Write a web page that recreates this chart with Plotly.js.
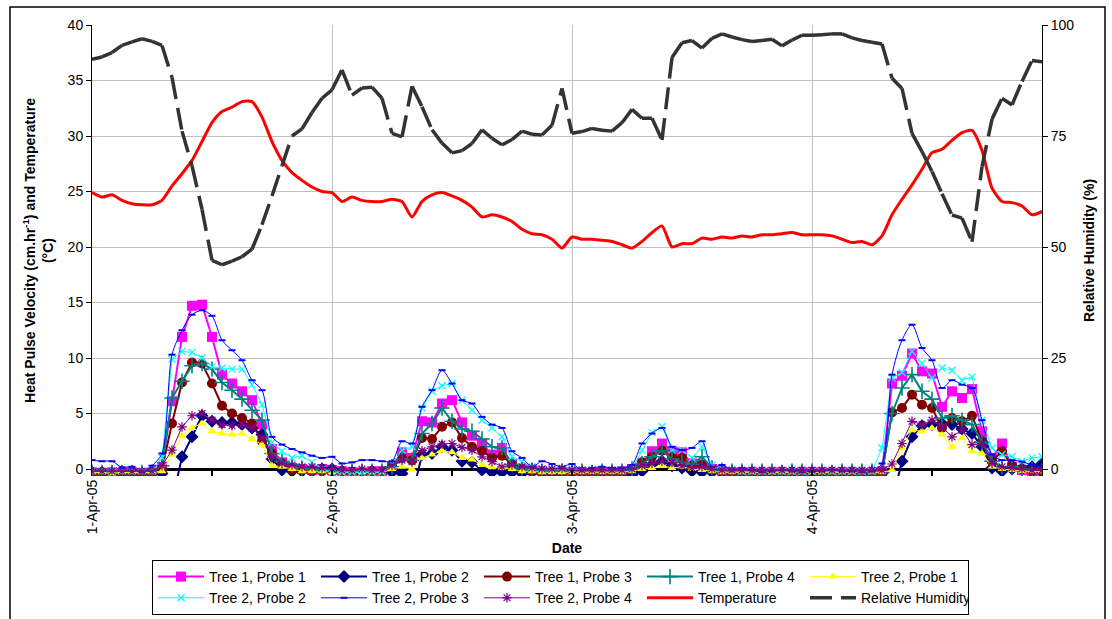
<!DOCTYPE html>
<html>
<head>
<meta charset="utf-8">
<script src="https://cdn.plot.ly/plotly-3.0.1.min.js"></script>
<style>
html,body{margin:0;padding:0;background:#ffffff;}
#chart{width:1112px;height:619px;}
</style>
</head>
<body>
<div id="chart"></div>
<script>
// ---- categories (hourly readings, 1-Apr-05 00:00 onward) ----
const startYear = 2005, startMonth = 3, startDay = 1; // JS month index (3 = April)
const nHours = 96;
const dayTicks = ['2005-04-01', '2005-04-02', '2005-04-03', '2005-04-04'];
const dayLabels = ['1-Apr-05', '2-Apr-05', '3-Apr-05', '4-Apr-05'];

// ---- Heat pulse velocity (cm/hr), one value per hour ----
const tree1Probe1 = [
 -0.3,-0.4,-0.3,-0.4,-0.3,-0.4, -0.3,0.2,6.1,11.9,14.7,14.8, 11.9,8.5,7.7,7.0,6.2,4.0, 1.8,0.6,0.1,0.0,-0.1,0.0,
 -0.1,-0.2,-0.3,-0.3,-0.2,-0.2, 0.2,1.5,1.0,4.3,4.2,5.9, 6.2,4.2,3.0,2.3,1.3,1.9, 0.5,0.0,-0.1,-0.2,-0.3,-0.3,
 -0.3,-0.3,-0.4,-0.3,-0.4,-0.2, 0.0,0.5,1.6,2.3,1.6,1.5, 0.5,0.3,0.0,-0.2,-0.3,-0.3, -0.3,-0.4,-0.3,-0.3,-0.4,-0.3,
 -0.3,-0.3,-0.4,-0.3,-0.3,-0.4, -0.3,-0.2,7.7,8.4,10.4,8.8, 8.6,5.6,7.0,6.4,7.2,3.4, 1.0,2.3,0.2,-0.1,-0.2,-0.2];
const tree1Probe2 = [
 -0.3,-0.3,-0.4,-0.3,-0.3,-0.4, -0.3,-0.4,-3.0,1.1,2.9,4.8, 4.3,4.2,4.2,4.0,3.7,3.1, 0.9,-0.1,-0.2,-0.2,-0.1,0.0,
 0.0,-0.2,-0.3,-0.3,-0.2,-0.3, -0.3,-0.4,-2.5,1.3,1.4,2.0, 1.7,0.7,0.6,-0.1,-0.3,-0.3, -0.3,-0.4,-0.3,-0.3,-0.4,-0.3,
 -0.3,-0.3,-0.4,-0.3,-0.3,-0.3, -0.5,-0.2,0.4,0.7,0.3,0.1, -0.2,-0.3,-0.3,-0.3,-0.4,-0.3, -0.3,-0.3,-0.4,-0.3,-0.3,-0.3,
 -0.3,-0.4,-0.3,-0.3,-0.3,-0.4, -0.3,-0.4,-3.0,0.7,2.9,3.9, 4.0,4.1,4.0,3.6,3.2,2.0, 0.1,-0.2,0.0,0.0,0.2,0.5];
const tree1Probe3 = [
 -0.4,-0.5,-0.5,-0.4,-0.5,-0.4, -0.4,0.0,4.1,7.8,9.6,9.5, 7.7,5.7,5.0,4.6,4.1,2.5, 1.4,0.5,-0.1,-0.1,-0.2,-0.2,
 -0.3,-0.3,-0.3,-0.4,-0.3,-0.3, 0.2,1.0,0.8,2.8,2.7,3.8, 4.2,2.8,2.0,1.65,1.0,1.2, 0.45,0.0,-0.2,-0.3,-0.3,-0.4,
 -0.3,-0.3,-0.4,-0.3,-0.5,-0.3, 0.0,0.6,1.1,1.65,1.1,1.0, 0.3,0.4,0.0,-0.2,-0.3,-0.3, -0.4,-0.3,-0.3,-0.4,-0.3,-0.3,
 -0.4,-0.3,-0.3,-0.4,-0.3,-0.3, -0.4,-0.3,5.1,5.5,6.7,5.8, 5.5,3.7,4.6,4.3,4.8,2.5, 0.7,1.6,0.3,0.06,-0.2,-0.2];
const tree1Probe4 = [
 -0.3,-0.3,-0.3,-0.3,-0.3,-0.3, -0.3,0.3,6.4,7.9,9.3,9.5, 9.0,7.8,7.1,6.3,5.3,4.4, 1.4,0.7,0.4,0.1,0.0,-0.1,
 -0.2,-0.2,-0.2,-0.2,-0.2,-0.2, 0.2,0.9,0.8,3.2,4.1,5.5, 4.3,3.6,3.4,2.7,2.0,1.9, 0.4,0.1,-0.1,-0.2,-0.2,-0.2,
 -0.2,-0.2,-0.3,-0.2,-0.2,-0.2, 0.0,0.5,1.1,1.65,0.9,0.6, 0.4,1.1,0.1,-0.1,-0.2,-0.2, -0.2,-0.2,-0.2,-0.3,-0.2,-0.2,
 -0.2,-0.2,-0.3,-0.2,-0.2,-0.2, -0.2,-0.3,5.0,7.3,8.5,7.0, 6.3,4.6,4.8,4.4,4.0,2.4, 0.7,0.2,0.2,0.0,-0.1,-0.2];
const tree2Probe1 = [
 -0.3,-0.3,-0.4,-0.3,-0.3,-0.3, -0.3,-0.2,1.3,3.0,3.7,4.1, 3.4,3.2,3.1,3.2,2.7,2.2, 0.3,0.2,0.0,-0.2,-0.2,-0.2,
 -0.3,-0.3,-0.3,-0.3,-0.3,-0.3, 0.0,0.2,0.0,1.0,1.3,1.65, 1.5,1.0,0.85,0.36,0.15,0.1, 0.0,-0.2,-0.2,-0.3,-0.3,-0.3,
 -0.3,-0.3,-0.3,-0.3,-0.3,-0.3, -0.2,0.0,0.1,0.3,0.1,0.2, 0.0,-0.1,-0.2,-0.3,-0.3,-0.3, -0.3,-0.3,-0.3,-0.3,-0.3,-0.3,
 -0.3,-0.3,-0.3,-0.3,-0.3,-0.3, -0.3,-0.3,-0.1,1.9,3.5,3.4, 3.7,3.1,2.0,2.8,1.6,1.4, 0.2,0.0,-0.1,-0.2,-0.2,-0.2];
const tree2Probe2 = [
 -0.2,-0.2,-0.2,-0.2,-0.2,-0.2, -0.2,1.0,9.9,10.6,10.5,10.0, 9.2,9.1,9.0,9.0,7.6,5.8, 2.4,1.6,1.0,1.2,0.6,0.0,
 -0.3,-0.3,-0.3,-0.3,-0.3,-0.3, 0.4,1.7,2.0,5.5,7.0,7.5, 7.7,6.2,5.3,4.4,3.7,2.9, 1.1,0.66,0.2,0.0,0.0,0.0,
 0.0,-0.1,-0.1,-0.1,-0.1,-0.1, 0.0,1.7,3.3,3.8,1.7,1.7, 1.0,2.0,0.36,0.0,-0.1,-0.2, -0.2,-0.2,-0.2,-0.2,-0.2,-0.2,
 -0.2,-0.2,-0.2,-0.2,-0.2,-0.2, -0.2,1.9,8.2,8.7,10.6,9.5, 8.2,9.1,8.9,8.0,8.3,4.4, 1.9,1.3,1.1,0.7,1.0,1.1];
const tree2Probe3 = [
 0.8,0.7,0.7,0.15,0.2,-0.3, 0.3,1.4,10.3,12.5,13.9,14.3, 13.8,11.6,10.7,9.8,8.0,7.1, 2.9,2.2,1.8,1.5,1.2,1.0,
 1.1,0.5,0.6,0.8,0.8,0.7, 0.7,2.5,2.3,5.6,7.1,8.9, 7.7,6.2,5.9,4.7,4.0,3.7, 1.6,1.0,0.2,0.7,0.45,0.2,
 0.45,-0.1,0.1,0.2,0.1,0.1, 0.36,2.3,3.2,3.7,2.0,1.7, 1.9,2.5,0.2,0.36,-0.1,0.06, -0.1,-0.3,-0.2,-0.1,-0.2,-0.3,
 -0.2,-0.2,-0.1,-0.2,-0.2,-0.3, -0.2,0.5,8.5,11.6,13.0,10.9, 9.8,7.3,8.0,7.6,7.3,4.4, 1.3,0.8,0.8,0.66,0.36,0.2];
const tree2Probe4 = [
 -0.2,-0.2,-0.2,-0.2,-0.2,-0.2, -0.2,0.3,1.7,3.8,4.8,5.0, 4.4,4.0,3.9,4.0,3.7,2.8, 1.1,0.5,0.36,0.2,0.2,0.1,
 0.0,-0.1,-0.1,0.0,-0.1,-0.1, 0.3,0.8,0.66,1.65,2.0,2.25, 2.3,1.95,1.7,1.1,0.66,0.2, 0.36,0.2,0.1,0.0,0.0,0.06,
 -0.1,-0.1,-0.1,-0.1,-0.1,-0.1, 0.0,0.3,0.5,0.7,0.6,0.3, 0.1,0.2,0.0,-0.1,-0.1,-0.1, -0.1,-0.1,-0.1,-0.1,-0.1,-0.1,
 -0.1,-0.1,-0.1,-0.1,-0.1,-0.1, -0.1,-0.1,0.45,2.3,4.3,4.0, 4.4,3.8,2.9,3.5,2.2,2.3, 0.5,0.2,0.1,0.0,-0.1,-0.1];

// ---- Temperature (°C) ----
const temperature = [
 24.9,24.5,24.7,24.2,23.9,23.8, 23.8,24.2,25.5,26.6,27.8,29.5, 31.2,32.2,32.6,33.1,33.1,31.7, 29.5,27.8,26.7,26.0,25.4,25.0,
 24.9,24.1,24.5,24.2,24.1,24.1, 24.3,24.1,22.7,24.1,24.7,24.9, 24.6,24.2,23.6,22.7,22.9,22.7, 22.3,21.6,21.2,21.1,20.7,19.9,
 20.9,20.7,20.7,20.6,20.5,20.2, 19.9,20.5,21.3,21.9,20.0,20.3, 20.3,20.8,20.7,20.9,20.8,21.0, 20.9,21.1,21.1,21.2,21.3,21.1,
 21.1,21.1,21.0,20.7,20.4,20.5, 20.2,21.0,22.9,24.3,25.6,27.0, 28.5,28.8,29.6,30.3,30.5,28.7, 25.3,24.1,24.0,23.7,22.9,23.2];

// ---- Relative humidity (%) ----
const humidity = [
 92.3,92.8,93.8,95.4,96.2,96.9, 96.3,95.4,88.2,76.1,68.3,58.5, 47.0,46.0,46.8,47.8,49.5,55.0, 61.5,68.3,75.0,76.6,80.3,83.5,
 85.4,89.9,84.2,85.8,86.0,83.5, 75.6,74.8,86.2,81.6,76.4,73.4, 71.2,71.7,73.3,76.4,74.5,73.0, 74.2,76.1,75.4,75.2,77.4,85.7,
 75.6,76.0,76.7,76.3,76.1,78.0, 81.0,79.0,79.0,74.1,92.7,96.0, 96.5,94.8,97.0,98.0,97.3,96.7, 96.3,96.5,96.8,95.3,96.6,97.7,
 97.7,97.8,98.0,98.0,97.1,96.5, 96.1,95.7,88.0,85.7,75.6,71.5, 67.0,62.0,57.2,56.5,51.2,68.1, 78.8,83.5,82.0,87.3,92.0,91.7];

// ---- build the hourly time stamps ----
function pad(n){ return (n < 10 ? '0' : '') + n; }
function stamp(h){
  const d = new Date(Date.UTC(startYear, startMonth, startDay, 0, 0, 0) + h * 3600000);
  return d.getUTCFullYear() + '-' + pad(d.getUTCMonth() + 1) + '-' + pad(d.getUTCDate()) + ' ' +
         pad(d.getUTCHours()) + ':' + pad(d.getUTCMinutes());
}
const times = Array.from({length: nHours}, (_, h) => stamp(h));

// Each hourly segment is its own sub-path so the dash pattern restarts per segment
function segmented(xs, ys){
  const sx = [], sy = [];
  for (let i = 0; i < xs.length - 1; i++){
    sx.push(xs[i], xs[i + 1], null);
    sy.push(ys[i], ys[i + 1], null);
  }
  return {sx, sy};
}
const rhSeg = segmented(times, humidity);

const FONT = 'Liberation Sans, Arial, Helvetica, sans-serif';

function hpv(name, y, color, lw, symbol, size, opts){
  const m = Object.assign({symbol: symbol, size: size, color: color, line: {width: 0, color: color}}, opts || {});
  return {x: times, y: y, name: name, type: 'scatter', mode: 'lines+markers',
          line: {color: color, width: lw}, marker: m, yaxis: 'y'};
}

const traces = [
  hpv('Tree 1, Probe 1', tree1Probe1, '#FF00FF', 2, 'square', 10),
  hpv('Tree 1, Probe 2', tree1Probe2, '#000080', 2, 'diamond', 10),
  hpv('Tree 1, Probe 3', tree1Probe3, '#800000', 2, 'circle', 10),
  hpv('Tree 1, Probe 4', tree1Probe4, '#008080', 2, 'cross-thin-open', 11, {line: {width: 1.6, color: '#008080'}}),
  hpv('Tree 2, Probe 1', tree2Probe1, '#FFFF00', 1, 'triangle-up', 8),
  hpv('Tree 2, Probe 2', tree2Probe2, '#00FFFF', 1, 'x-thin-open', 7, {line: {width: 1.3, color: '#00FFFF'}}),
  Object.assign(hpv('Tree 2, Probe 3', tree2Probe3, '#0000FF', 1, 'line-ew-open', 5, {line: {width: 2, color: '#0000FF'}}),
                {line: {color: '#0000FF', width: 1, shape: 'spline', smoothing: 0.8}}),
  hpv('Tree 2, Probe 4', tree2Probe4, '#800080', 1, 'asterisk-open', 8, {line: {width: 1.2, color: '#800080'}}),
  {x: times, y: temperature, name: 'Temperature', type: 'scatter', mode: 'lines',
   line: {color: '#FF0000', width: 3, shape: 'spline', smoothing: 0.6}, yaxis: 'y'},
  {x: rhSeg.sx, y: rhSeg.sy, name: 'Relative Humidity', type: 'scatter', mode: 'lines',
   connectgaps: false, line: {color: '#333333', width: 3.5, dash: '22px,9px'}, yaxis: 'y2'}
];

const plotL = 92, plotR = 1042, plotT = 25, plotB = 476;
const pw = plotR - plotL, ph = plotB - plotT;
function px2paperX(px){ return (px - plotL) / pw; }
function px2paperY(py){ return (plotB - py) / ph; }

const layout = {
  width: 1112, height: 619,
  margin: {l: plotL, r: 1112 - plotR, t: plotT, b: 619 - plotB, pad: 0, autoexpand: false},
  paper_bgcolor: '#ffffff', plot_bgcolor: '#ffffff',
  font: {family: FONT, size: 14, color: '#000000'},
  showlegend: true,
  xaxis: {
    type: 'date',
    range: [times[0], times[nHours - 1]],
    tickvals: dayTicks, ticktext: dayLabels, tickangle: -90,
    tickfont: {family: FONT, size: 14, color: '#000'},
    ticks: 'inside', ticklen: 6, tickwidth: 1.5, tickcolor: '#000',
    minor: {dtick: 43200000, ticks: 'inside', ticklen: 6, tickwidth: 1.5, tickcolor: '#000', showgrid: false},
    showgrid: true, gridcolor: '#c0c0c0', gridwidth: 1,
    showline: false, zeroline: false, automargin: false,
    title: {text: '<b>Date</b>', font: {family: FONT, size: 14, color: '#000'}, standoff: 9}
  },
  yaxis: {
    range: [-0.63, 40], tickvals: [0,5,10,15,20,25,30,35,40],
    tickfont: {family: FONT, size: 14, color: '#000'},
    ticks: 'outside', ticklen: 5, tickcolor: '#000', tickwidth: 1,
    showgrid: true, gridcolor: '#c0c0c0', gridwidth: 1,
    showline: true, linecolor: '#000', linewidth: 1,
    zeroline: true, zerolinecolor: '#000', zerolinewidth: 3, automargin: false,
    title: {text: '<b>Heat Pulse Velocity (cm.hr<sup>-1</sup>) and Temperature<br>(°C)</b>',
            font: {family: FONT, size: 14, color: '#000'}, standoff: 10}
  },
  yaxis2: {
    overlaying: 'y', side: 'right', range: [-1.575, 100], tickvals: [0,25,50,75,100],
    tickfont: {family: FONT, size: 14, color: '#000'},
    ticks: 'outside', ticklen: 5, tickcolor: '#000', tickwidth: 1,
    showgrid: false, zeroline: false, automargin: false,
    showline: true, linecolor: '#000', linewidth: 1,
    title: {text: '<b>Relative Humidity (%)</b>', font: {family: FONT, size: 14, color: '#000'}, standoff: 10}
  },
  legend: {
    orientation: 'h', x: px2paperX(152), xanchor: 'left', y: px2paperY(560), yanchor: 'top',
    bordercolor: '#000', borderwidth: 1, bgcolor: '#ffffff',
    font: {family: FONT, size: 14, color: '#000'},
    itemwidth: 46, entrywidthmode: 'pixels', entrywidth: 102, traceorder: 'normal'
  },
  shapes: [{
    type: 'rect', xref: 'paper', yref: 'paper', layer: 'above',
    x0: px2paperX(10), x1: px2paperX(1105), y0: px2paperY(640), y1: px2paperY(7),
    line: {color: '#000', width: 1.5}, fillcolor: 'rgba(0,0,0,0)'
  }]
};

Plotly.newPlot('chart', traces, layout, {displayModeBar: false, staticPlot: true});
</script>
</body>
</html>
